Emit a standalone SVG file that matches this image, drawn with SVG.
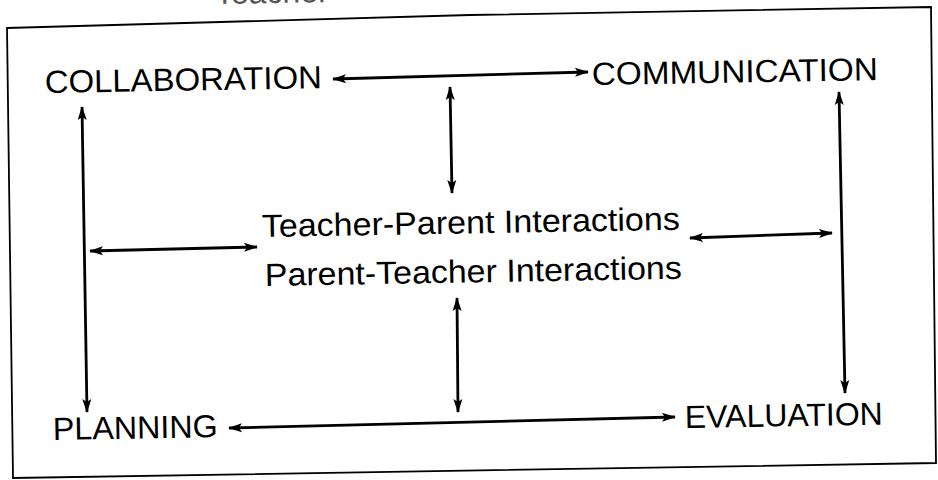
<svg xmlns="http://www.w3.org/2000/svg" width="938" height="480" viewBox="0 0 938 480">
<defs>
<marker id="ah" viewBox="0 0 14 10" refX="13" refY="5" markerWidth="15" markerHeight="10" markerUnits="userSpaceOnUse" orient="auto-start-reverse">
<path d="M0,0.5 L14,5 L0,9.5 L3,5 Z" fill="#000"/>
</marker>
</defs>
<style>
.t{font-family:"Liberation Sans",Arial,Helvetica,sans-serif;font-size:32px;fill:#000;}
.c{stroke:#000;stroke-width:2.8;fill:none;marker-start:url(#ah);marker-end:url(#ah);}
.b{stroke:#000;stroke-width:1.8;fill:none;}
</style>
<rect width="938" height="480" fill="#fff"/>
<g id="frame">
<text class="t" x="215" y="4" style="fill:#555" transform="rotate(-1 215 4)">Teacher</text>
<path class="b" d="M7,28 L470,15 L931,7 L936,463 L13,478 Z"/>
</g>
<g id="collaboration"><text class="t" x="45" y="93" textLength="277" lengthAdjust="spacingAndGlyphs" transform="rotate(-1 45 93)">COLLABORATION</text></g>
<g id="communication"><text class="t" x="592" y="85" textLength="286" lengthAdjust="spacingAndGlyphs" transform="rotate(-1 592 85)">COMMUNICATION</text></g>
<g id="interactions">
<text class="t" x="262" y="237" textLength="418" lengthAdjust="spacingAndGlyphs" transform="rotate(-1 262 237)">Teacher-Parent Interactions</text>
<text class="t" x="265" y="286" textLength="417" lengthAdjust="spacingAndGlyphs" transform="rotate(-1 265 286)">Parent-Teacher Interactions</text>
</g>
<g id="planning"><text class="t" x="53" y="440" textLength="165" lengthAdjust="spacingAndGlyphs" transform="rotate(-1 53 440)">PLANNING</text></g>
<g id="evaluation"><text class="t" x="685" y="428" textLength="198" lengthAdjust="spacingAndGlyphs" transform="rotate(-1 685 428)">EVALUATION</text></g>
<g id="connectors">
<line class="c" x1="333" y1="79" x2="588" y2="72"/>
<line class="c" x1="450" y1="87" x2="452" y2="193"/>
<line class="c" x1="457" y1="298" x2="458" y2="412"/>
<line class="c" x1="82" y1="107" x2="87" y2="412"/>
<line class="c" x1="839" y1="92" x2="845" y2="393"/>
<line class="c" x1="90" y1="251" x2="257" y2="247"/>
<line class="c" x1="690" y1="238" x2="832" y2="233"/>
<line class="c" x1="229" y1="428" x2="675" y2="417"/>
</g>
</svg>
